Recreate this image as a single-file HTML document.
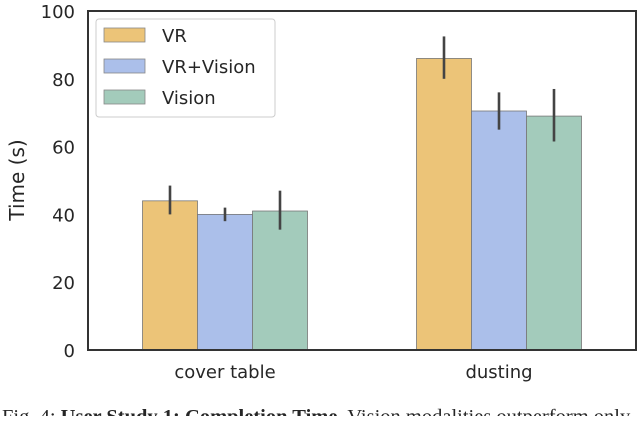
<!DOCTYPE html>
<html><head><meta charset="utf-8"><style>
body{margin:0;background:#fff;width:640px;height:416px;overflow:hidden}
svg text{font-family:"DejaVu Sans","Liberation Sans",sans-serif;fill:#262626}
</style></head><body>
<svg id="chart" width="640" height="416" xmlns="http://www.w3.org/2000/svg">
<g id="bars"></g>
<g id="axes"></g>
<text transform="translate(24,180) rotate(-90)" text-anchor="middle" font-size="20">Time (s)</text>
<g>
<rect x="96" y="19" width="179" height="98" rx="3" fill="#fff" stroke="#ccc"/>
<rect x="104" y="28" width="41" height="14" fill="#ecc478" stroke="#888" stroke-width="0.8"/>
<text x="162" y="42" font-size="18">VR</text>
<rect x="104" y="59" width="41" height="14" fill="#abbfea" stroke="#888" stroke-width="0.8"/>
<text x="162" y="73" font-size="18">VR+Vision</text>
<rect x="104" y="90" width="41" height="14" fill="#a3cbbb" stroke="#888" stroke-width="0.8"/>
<text x="162" y="104" font-size="18">Vision</text>
</g>
<text x="2" y="423" font-size="20.5" style="font-family:'Liberation Serif',serif">Fig. 4: <tspan font-weight="bold">User Study 1: Completion Time.</tspan> Vision modalities outperform only</text>
</svg>
<script>
const categories=["cover table","dusting"];
const seriesNames=["VR","VR+Vision","Vision"];
const vrValues=[44,86];
const vrVisionValues=[40,70.5];
const visionValues=[41,69];
const vrErr=[[40,48.5],[80,92.5]];
const vrVisionErr=[[38,42],[65,76]];
const visionErr=[[35.5,47],[61.5,77]];
const yTicks=[0,20,40,60,80,100];
const colors=["#ecc478","#abbfea","#a3cbbb"];
const L=88,R=636,T=11,B=350,yMax=100;
const NS="http://www.w3.org/2000/svg";
const y=v=>B-(v/yMax)*(B-T);
const groupW=(R-L)/categories.length, barW=55;
const xBar=(c,s)=>L+groupW*(c+0.5)-barW*1.5+s*barW;
const bars=document.getElementById('bars'), axes=document.getElementById('axes');
function mk(tag,attrs,parent){const e=document.createElementNS(NS,tag);for(const k in attrs)e.setAttribute(k,attrs[k]);parent.appendChild(e);return e;}
const vals=[vrValues,vrVisionValues,visionValues], errs=[vrErr,vrVisionErr,visionErr];
categories.forEach((cat,c)=>{
  vals.forEach((arr,s)=>{
    const r=mk('rect',{x:xBar(c,s),y:y(arr[c]),width:barW,height:B-y(arr[c]),fill:colors[s],stroke:'#777','stroke-width':0.8},bars);
    
    
    const cx=xBar(c,s)+barW/2;
    const l=mk('line',{x1:cx,x2:cx,y1:y(errs[s][c][0]),y2:y(errs[s][c][1]),stroke:'#444','stroke-width':2.6},bars);
    
    
  });
  const t=mk('text',{x:L+groupW*(c+0.5),y:B+28,'text-anchor':'middle','font-size':18},axes);
  t.textContent=cat;
  
  
});
yTicks.forEach(v=>{
  const t=mk('text',{x:L-13,y:y(v)+7,'text-anchor':'end','font-size':18},axes);
  t.textContent=v;
  
  
});
const f=mk('rect',{x:L,y:T,width:R-L,height:B-T,fill:'none',stroke:'#333','stroke-width':2},axes);


</script>
</body></html>
